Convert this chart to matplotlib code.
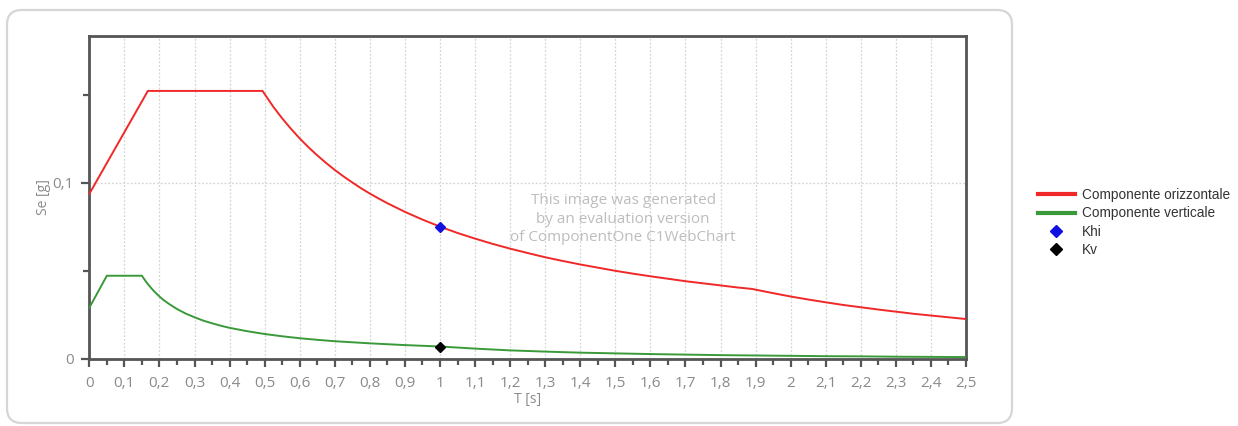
import matplotlib
matplotlib.use("Agg")
import matplotlib.pyplot as plt
from matplotlib.patches import FancyBboxPatch
from matplotlib.lines import Line2D
from matplotlib.ticker import MultipleLocator, FuncFormatter

# Elastic response spectrum, horizontal component: period T [s] -> Se [g]
t_oriz = [0.0, 0.167, 0.494, 0.525, 0.55, 0.575, 0.6, 0.625, 0.65, 0.675, 0.7,
          0.725, 0.75, 0.775, 0.8, 0.825, 0.85, 0.9, 0.95,
          1.0, 1.05, 1.1, 1.15, 1.2, 1.25, 1.3, 1.35, 1.4, 1.45, 1.5, 1.55,
          1.6, 1.65, 1.7, 1.75, 1.8, 1.85, 1.89, 1.95, 2.0, 2.05, 2.1, 2.15,
          2.2, 2.25, 2.3, 2.35, 2.4, 2.45, 2.5]
se_oriz = [0.0938, 0.1523, 0.1523, 0.1432, 0.1367, 0.1308, 0.1253, 0.1203,
           0.1157, 0.1114, 0.1074, 0.1037, 0.1003, 0.0970, 0.0940, 0.0912,
           0.0885, 0.0836, 0.0792, 0.0752, 0.0716, 0.0684, 0.0654,
           0.0627, 0.0602, 0.0578, 0.0557, 0.0537, 0.0519, 0.0501, 0.0485,
           0.0470, 0.0456, 0.0442, 0.0430, 0.0418, 0.0406, 0.0398, 0.0374,
           0.0355, 0.0338, 0.0322, 0.0307, 0.0294, 0.0281, 0.0269, 0.0257,
           0.0247, 0.0237, 0.0227]

# Vertical component
t_vert = [0.0, 0.05, 0.15, 0.16, 0.17, 0.185, 0.2, 0.21, 0.225, 0.25, 0.275,
          0.3, 0.325, 0.35, 0.375, 0.4, 0.45, 0.5,
          0.55, 0.6, 0.65, 0.7, 0.75, 0.8, 0.9, 1.0, 1.1, 1.2, 1.3, 1.4, 1.5,
          1.6, 1.7, 1.8, 1.9, 2.0, 2.1, 2.2, 2.3, 2.4, 2.5]
se_vert = [0.0291, 0.0473, 0.0473, 0.0444, 0.0418, 0.0384, 0.0355, 0.0338,
           0.0316, 0.0284, 0.0258, 0.0237, 0.0218, 0.0203, 0.0189,
           0.0177, 0.0158, 0.0142, 0.0129, 0.0118, 0.0109, 0.0101,
           0.0095, 0.0089, 0.0079, 0.0071, 0.0059, 0.0049, 0.0042, 0.0036,
           0.0032, 0.0028, 0.0025, 0.0022, 0.0020, 0.0018, 0.0016, 0.0015,
           0.0013, 0.0012, 0.0011]

# Seismic coefficients at the structure's period
t_k = [1.0]
khi = [0.0752]
kv = [0.0071]

legend_labels = ["Componente orizzontale", "Componente verticale", "Khi", "Kv"]
watermark = "This image was generated\nby an evaluation version\nof ComponentOne C1WebChart"

RED = "#f02828"
GREEN = "#3a9a3a"
AXIS = "#555555"
TICKTXT = "#8a8a8a"

W, H = 1238, 426
fig = plt.figure(figsize=(W / 100, H / 100), dpi=100)
fig.patch.set_facecolor("white")

# rounded panel frame, kept behind the axes
panel = FancyBboxPatch((7 / W, 3 / H), 1005 / W, 413 / H,
                       boxstyle="round,pad=0,rounding_size=0.012",
                       transform=fig.transFigure, facecolor="white",
                       edgecolor="#d6d6d6", linewidth=1.6, zorder=-5,
                       mutation_aspect=W / H)
fig.patches.append(panel)

ax = fig.add_axes([89.3 / W, 1 - 359 / H, (966 - 89.3) / W, (359 - 36) / H])
ax.set_zorder(2)
ax.patch.set_alpha(0)
ax.set_xlim(0, 2.5)
ax.set_ylim(0, 0.1835)

ax.plot(t_oriz, se_oriz, color=RED, lw=1.4, zorder=3)
ax.plot(t_vert, se_vert, color=GREEN, lw=1.4, zorder=3)
ax.plot(t_k, khi, ls="none", marker="D", ms=5, color="#1010e0", zorder=4)
ax.plot(t_k, kv, ls="none", marker="D", ms=5, color="black", zorder=4)

comma = FuncFormatter(lambda v, p: ("%g" % round(v, 3)).replace(".", ","))
ax.xaxis.set_major_locator(MultipleLocator(0.1))
ax.xaxis.set_minor_locator(MultipleLocator(0.05))
ax.xaxis.set_major_formatter(comma)
ax.yaxis.set_major_locator(MultipleLocator(0.1))
ax.yaxis.set_minor_locator(MultipleLocator(0.05))
ax.yaxis.set_major_formatter(comma)

for s in ax.spines.values():
    s.set_color(AXIS)
    s.set_linewidth(2.0)

ax.tick_params(axis="both", which="major", direction="out", length=6, width=1.6,
               color=AXIS, labelcolor=TICKTXT, labelsize=11, pad=5)
ax.tick_params(axis="x", which="major", pad=6)
ax.tick_params(axis="both", which="minor", direction="out", length=4, width=1.6,
               color=AXIS)
for lab in ax.get_xticklabels() + ax.get_yticklabels():
    lab.set_fontfamily("Open Sans")

ax.grid(True, axis="x", which="major", ls=(0, (1.5, 1.5)), color="#d4d4d4", lw=0.9)
ax.grid(True, axis="y", which="major", ls=(0, (1.5, 1.5)), color="#d4d4d4", lw=0.9)
ax.set_axisbelow(True)

ax.set_xlabel("T [s]", color=TICKTXT, fontsize=10, family="Open Sans", labelpad=1)
ax.set_ylabel("Se [g]", color=TICKTXT, fontsize=10, family="Open Sans", labelpad=1)

ax.text(0.609, 0.433, watermark, transform=ax.transAxes, ha="center", va="center",
        color="#bdbdbd", fontsize=11, family="Open Sans", linespacing=1.3,
        zorder=2)

handles = [Line2D([], [], color=RED, lw=3),
           Line2D([], [], color=GREEN, lw=3),
           Line2D([], [], ls="none", marker="D", ms=6, color="#1010e0"),
           Line2D([], [], ls="none", marker="D", ms=6, color="black")]
leg = fig.legend(handles, legend_labels, loc="upper left",
                 bbox_to_anchor=(1038 / W, 1 - 188 / H), frameon=False,
                 prop={"family": "Liberation Sans", "size": 9.8},
                 handlelength=2.7, handletextpad=0.5, labelspacing=0.32,
                 borderpad=0, borderaxespad=0)
for t in leg.get_texts():
    t.set_color("#333333")

fig.savefig("out.png", dpi=100, facecolor="white")
